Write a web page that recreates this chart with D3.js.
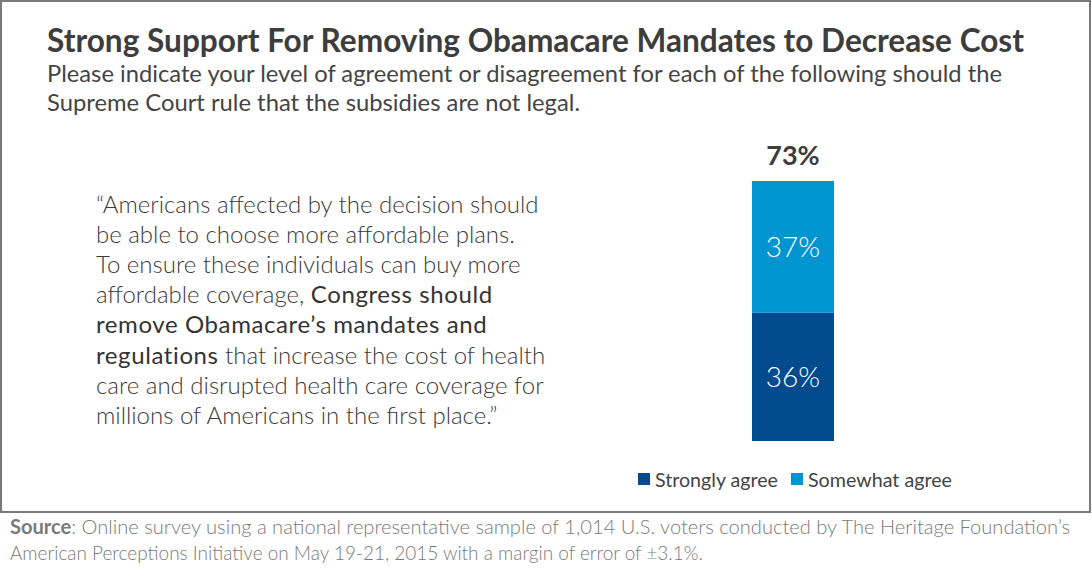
<!DOCTYPE html>
<html><head><meta charset="utf-8">
<script src="https://cdn.jsdelivr.net/npm/d3@7"></script>
<style>body{margin:0;background:#fff}svg{display:block}</style>
</head><body>
<svg id="c" width="1092" height="580"></svg>
<script>
const categories = ["Remove mandates"];
const seriesNames = ["Strongly agree", "Somewhat agree"];
const strongly = [36];
const somewhat = [37];
const totals = [73];
const colors = ["#004B8D", "#0095D1"];

const svg = d3.select("#c");

svg.append("rect").attr("x",1).attr("y",1).attr("width",1089).attr("height",511)
  .attr("fill","#fff").attr("stroke","#7a7a7a").attr("stroke-width",2);

svg.append("text").attr("x",47).attr("y",52).attr("font-family","Lato").attr("font-weight",700)
  .attr("font-size",33).attr("fill","#3d3d3d").attr("textLength",977).attr("lengthAdjust","spacingAndGlyphs")
  .text("Strong Support For Removing Obamacare Mandates to Decrease Cost");
const sub = [["Please indicate your level of agreement or disagreement  for each of the following should the",955,82],
             ["Supreme Court rule that the subsidies are not legal.",533,111]];
sub.forEach(s=>svg.append("text").attr("x",47).attr("y",s[2]).attr("font-family","Lato").attr("font-weight",400)
  .attr("font-size",23.5).attr("fill","#444").attr("textLength",s[1]).attr("lengthAdjust","spacingAndGlyphs").text(s[0]));

// quote
const quote = [
  [["“Americans affected by the decision should",300]],
  [["be able to choose more affordable plans.",300]],
  [["To ensure these individuals can buy more",300]],
  [["affordable coverage, ",300],["Congress should",400]],
  [["remove Obamacare’s mandates and",400]],
  [["regulations",400],[" that increase the cost of health",300]],
  [["care and disrupted health care coverage for",300]],
  [["millions of Americans in the first place.”",300]]
];
quote.forEach((line,i)=>{
  const t = svg.append("text").attr("x",96).attr("y",213+i*30.1).attr("font-family","Lato")
    .attr("font-size",24).attr("fill","#3a3a3a").attr("xml:space","preserve");
  line.forEach(p=>t.append("tspan").attr("font-weight",p[1])
    .attr("letter-spacing",p[1]===400?0.6:0).attr("fill",p[1]===400?"#333":"#3a3a3a").text(p[0]));
});

// bar
const x = d3.scaleBand().domain(categories).range([752,834]).padding(0);
const y = d3.scaleLinear().domain([0,73]).range([441,181]);
const stackData = categories.map((c,i)=>({cat:c,"Strongly agree":strongly[i],"Somewhat agree":somewhat[i]}));
const stack = d3.stack().keys(seriesNames)(stackData);
stack.forEach((s,si)=>{
  svg.append("g").selectAll("rect").data(s).join("rect")
    .attr("x",d=>x(d.data.cat)).attr("width",x.bandwidth())
    .attr("y",d=>y(d[1])).attr("height",d=>y(d[0])-y(d[1])).attr("fill",colors[si]);
  svg.append("g").selectAll("text").data(s).join("text")
    .attr("x",d=>x(d.data.cat)+x.bandwidth()/2).attr("y",d=>(y(d[0])+y(d[1]))/2+10)
    .attr("text-anchor","middle").attr("font-family","Lato").attr("font-weight",300).attr("font-size",28)
    .attr("fill","#fff").text(d=>(d[1]-d[0])+"%");
});
svg.selectAll(".tot").data(categories).join("text")
  .attr("x",d=>x(d)+x.bandwidth()/2).attr("y",(d,i)=>y(totals[i])-16)
  .attr("text-anchor","middle").attr("font-family","Lato").attr("font-weight",700).attr("font-size",27)
  .attr("fill","#3d3d3d").text((d,i)=>totals[i]+"%");

// legend
const leg = [[638,655,123],[791,808,144]];
seriesNames.forEach((n,i)=>{
  svg.append("rect").attr("x",leg[i][0]).attr("y",473).attr("width",12).attr("height",12).attr("fill",colors[i]);
  svg.append("text").attr("x",leg[i][1]).attr("y",487).attr("font-family","Lato").attr("font-size",19)
    .attr("fill","#444").attr("textLength",leg[i][2]).attr("lengthAdjust","spacingAndGlyphs").text(n);
});

// source
const s1 = svg.append("text").attr("x",10).attr("y",534).attr("font-family","Lato").attr("font-size",20.5)
  .attr("fill","#7a7a7a").attr("textLength",1060).attr("lengthAdjust","spacingAndGlyphs");
s1.append("tspan").attr("font-weight",700).text("Source");
s1.append("tspan").attr("font-weight",300).text(": Online survey using a national representative sample of 1,014 U.S. voters conducted by The Heritage Foundation’s");
svg.append("text").attr("x",10).attr("y",560).attr("font-family","Lato").attr("font-weight",300).attr("font-size",20.5)
  .attr("fill","#7a7a7a").attr("textLength",693).attr("lengthAdjust","spacingAndGlyphs")
  .text("American Perceptions Initiative on May 19-21, 2015 with a margin of error of ±3.1%.");
</script>
</body></html>
